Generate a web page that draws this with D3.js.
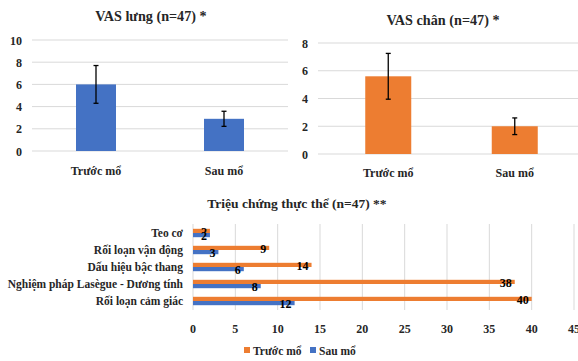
<!DOCTYPE html>
<html>
<head>
<meta charset="utf-8">
<script src="https://cdn.jsdelivr.net/npm/d3@7"></script>
</head>
<body style="margin:0;background:#fff">
<div id="chart"></div>
<script>
var periods = ["Trước mổ", "Sau mổ"],
    vasLungMean = [6.0, 2.9],
    vasLungErr = [1.7, 0.68],
    vasChanMean = [5.6, 2.0],
    vasChanErr = [1.65, 0.6],
    lungTicks = [0, 2, 4, 6, 8, 10],
    chanTicks = [0, 2, 4, 6, 8],
    symptoms = ["Teo cơ", "Rối loạn vận động", "Dấu hiệu bậc thang", "Nghiệm pháp Lasègue - Dương tính", "Rối loạn cảm giác"],
    truocMo = [2, 9, 14, 38, 40],
    sauMo = [2, 3, 6, 8, 12],
    symTicks = [0, 5, 10, 15, 20, 25, 30, 35, 40, 45];

var blue = "#4472C4", orange = "#ED7D31", grid = "#d9d9d9", ink = "#262626";
var serif = "Liberation Serif";

var svg = d3.select("#chart")
    .append("svg")
    .attr("width", 578)
    .attr("height", 361);

function label(g, x, y, size, anchor, txt) {
    return g.append("text")
        .attr("x", x).attr("y", y)
        .attr("text-anchor", anchor)
        .style("font-family", serif)
        .style("font-weight", "bold")
        .style("font-size", size + "px")
        .style("fill", ink)
        .text(txt);
}

// small vertical bar chart with error bars
function vasChart(opt) {
    var g = svg.append("g");

    var x = d3.scaleBand()
        .domain(periods)
        .range([opt.x0, opt.x1]);

    var y = d3.scaleLinear()
        .domain([0, d3.max(opt.ticks)])
        .range([opt.y0, opt.y1]);

    // gridlines
    g.selectAll(".grid")
        .data(opt.ticks)
        .enter().append("line")
        .attr("x1", opt.gx0).attr("x2", opt.gx1)
        .attr("y1", d => y(d)).attr("y2", d => y(d))
        .attr("stroke", grid).attr("stroke-width", 1);

    // tick labels
    opt.ticks.forEach(function (t) {
        label(g, opt.tickX, y(t) + 4.5, 12, "end", t);
    });

    var bw = opt.barW;
    g.selectAll(".bar")
        .data(opt.mean)
        .enter().append("rect")
        .attr("x", (d, i) => x(periods[i]) + x.bandwidth() / 2 - bw / 2)
        .attr("y", d => y(d))
        .attr("width", bw)
        .attr("height", d => y(0) - y(d))
        .attr("fill", opt.color);

    // error bars
    opt.mean.forEach(function (m, i) {
        var cx = x(periods[i]) + x.bandwidth() / 2,
            e = opt.err[i];
        g.append("line")
            .attr("x1", cx).attr("x2", cx)
            .attr("y1", y(m + e)).attr("y2", y(m - e))
            .attr("stroke", "#000").attr("stroke-width", 1.3);
        [m + e, m - e].forEach(function (v) {
            g.append("line")
                .attr("x1", cx - 2.5).attr("x2", cx + 2.5)
                .attr("y1", y(v)).attr("y2", y(v))
                .attr("stroke", "#000").attr("stroke-width", 1.3);
        });
    });

    // category labels
    periods.forEach(function (p) {
        label(g, x(p) + x.bandwidth() / 2, opt.catY, 12, "middle", p);
    });

    label(g, opt.titleX, opt.titleY, 14.2, "middle", opt.title);
}

vasChart({
    title: "VAS lưng (n=47) *", titleX: 151, titleY: 21,
    mean: vasLungMean, err: vasLungErr, ticks: lungTicks, color: blue,
    x0: 32, x1: 288, gx0: 32, gx1: 288, y0: 151, y1: 40,
    tickX: 22, barW: 40, catY: 175
});

vasChart({
    title: "VAS chân (n=47) *", titleX: 443, titleY: 25,
    mean: vasChanMean, err: vasChanErr, ticks: chanTicks, color: orange,
    x0: 325, x1: 578, gx0: 318, gx1: 578, y0: 154, y1: 43,
    tickX: 308, barW: 46, catY: 177
});

// bottom: horizontal grouped bars
var hx = d3.scaleLinear().domain([0, 45]).range([193, 574]);
var hy = d3.scaleBand().domain(symptoms).range([224.5, 309.5]);
var barH = 4.2;

var hg = svg.append("g");

hg.selectAll(".vgrid")
    .data(symTicks)
    .enter().append("line")
    .attr("x1", d => hx(d)).attr("x2", d => hx(d))
    .attr("y1", 224).attr("y2", 310)
    .attr("stroke", grid).attr("stroke-width", 1);

symTicks.forEach(function (t) {
    label(hg, hx(t), 333, 12, "middle", t);
});

symptoms.forEach(function (s) {
    label(hg, 183, hy(s) + hy.bandwidth() / 2 + 4, 11.5, "end", s);
});

function hBars(vals, color, off) {
    hg.selectAll(null)
        .data(vals)
        .enter().append("rect")
        .attr("x", hx(0))
        .attr("y", (d, i) => hy(symptoms[i]) + hy.bandwidth() / 2 + off)
        .attr("width", d => hx(d) - hx(0))
        .attr("height", barH)
        .attr("fill", color);
    vals.forEach(function (v, i) {
        label(hg, hx(v) - 3, hy(symptoms[i]) + hy.bandwidth() / 2 + off + barH / 2 + 5, 12, "end", v)
            .style("fill", "#000");
    });
}
hBars(truocMo, orange, -barH);
hBars(sauMo, blue, 0);

label(hg, 297, 208, 13.5, "middle", "Triệu chứng thực thể (n=47) **");

// legend
var legend = [["Trước mổ", orange, 244], ["Sau mổ", blue, 310]];
legend.forEach(function (l) {
    hg.append("rect")
        .attr("x", l[2]).attr("y", 347)
        .attr("width", 6).attr("height", 6)
        .attr("fill", l[1]);
    label(hg, l[2] + 9, 354.5, 11.5, "start", l[0]);
});
</script>
</body>
</html>
